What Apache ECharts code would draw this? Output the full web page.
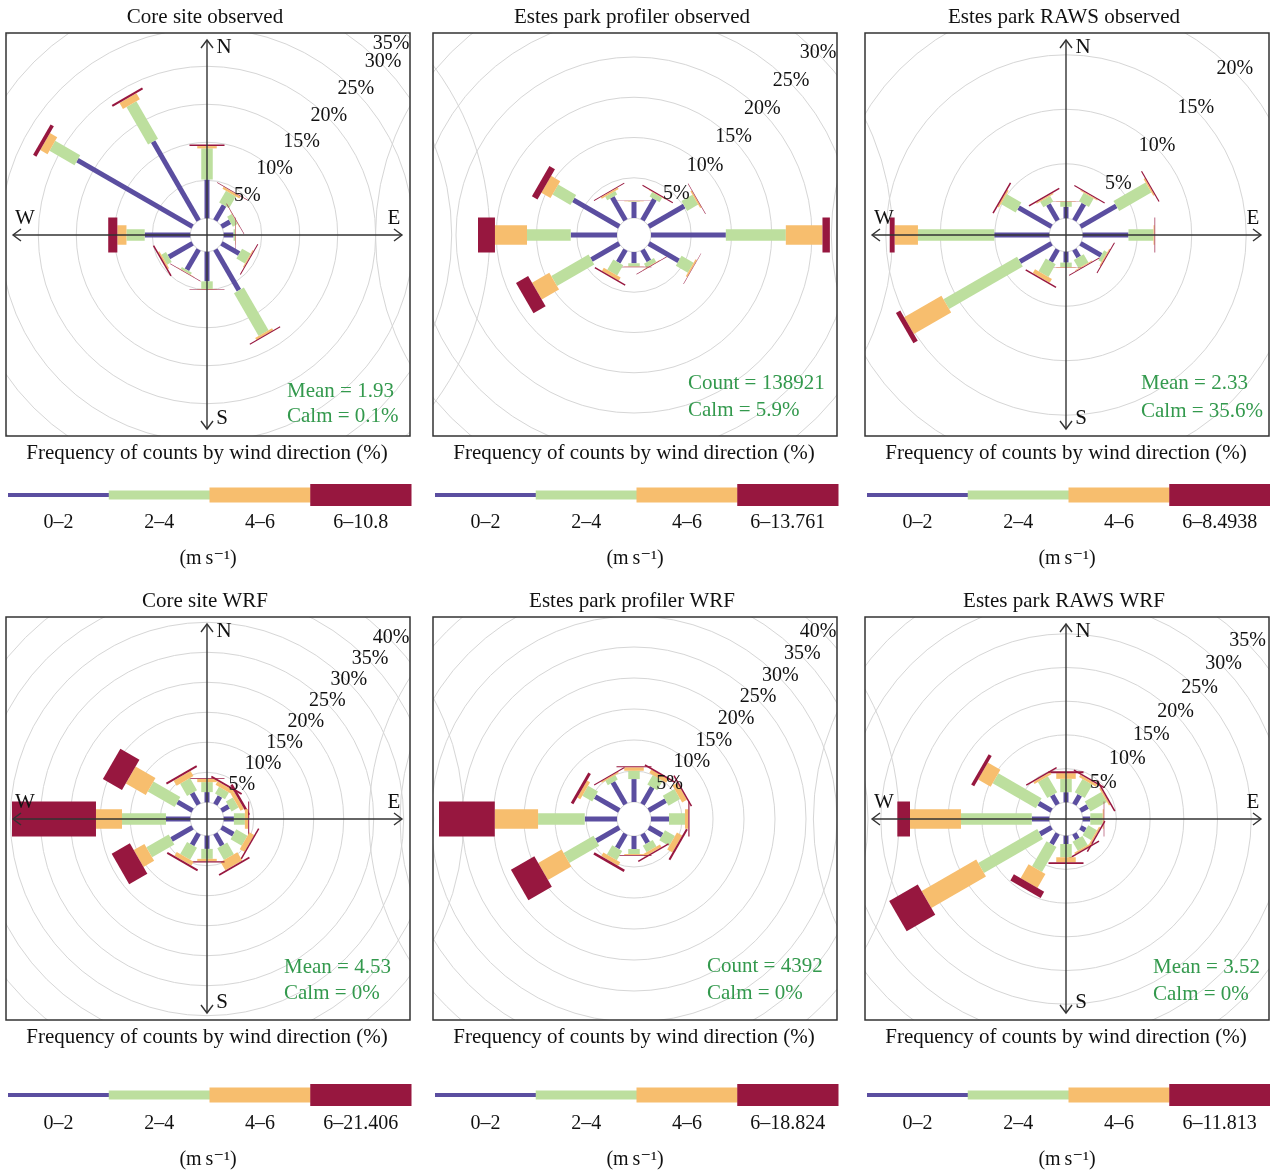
<!DOCTYPE html>
<html>
<head>
    <meta charset="utf-8">
    <title>Wind roses</title>
    <script src="https://cdn.jsdelivr.net/npm/echarts@6/dist/echarts.min.js"></script>
    <style type="text/css">
        html, body { margin: 0; padding: 0; background: #fff; }
        #main { width: 1270px; height: 1170px; }
    </style>
</head>
<body>
<div id="main"></div>
<script>
    // wind directions (degrees from north), one paddle each
    var directions = [0, 30, 60, 90, 120, 150, 180, 210, 240, 270, 300, 330];
    var speedBins = ['0\u20132', '2\u20134', '4\u20136'];

    // frequency (%) per direction, one row per speed band: 0-2, 2-4, 4-6, 6-max
    var coreObs = [
        [5.1, 2.3, 1.3, 1.3, 2.7, 6.2, 3.9, 3.1, 3.6, 6.0, 17.5, 12.0],
        [4.1, 1.8, 0.7, 0.2, 1.3, 6.5, 1.0, 0.3, 0.7, 2.4, 3.8, 5.7],
        [0.3, 0.3, 0.06, 0.06, 0.13, 0.3, 0.06, 0.06, 0.2, 1.2, 1.1, 0.9],
        [0.2, 0.1, 0.07, 0.05, 0.13, 0.13, 0.07, 0.07, 0.2, 1.2, 0.5, 0.3]
    ];
    var profObs = [
        [2.0, 3.0, 5.1, 9.3, 4.3, 1.6, 1.4, 1.8, 4.0, 5.75, 6.6, 3.3],
        [0.07, 0.64, 1.58, 7.45, 1.72, 0.56, 0.4, 1.5, 5.34, 5.43, 2.57, 0.5],
        [0.06, 0.06, 0.18, 4.55, 0.2, 0.07, 0.04, 0.45, 2.48, 3.98, 1.31, 0.21],
        [0.04, 0.13, 0.07, 0.92, 0.06, 0.08, 0.06, 0.18, 1.74, 2.11, 0.8, 0.12]
    ];
    var rawsObs = [
        [1.06, 1.75, 3.8, 4.2, 2.2, 0.8, 1.0, 1.27, 3.35, 5.05, 3.5, 1.7],
        [0.46, 0.88, 3.4, 2.3, 0.33, 0.88, 0.42, 1.33, 7.8, 7.0, 1.56, 0.6],
        [0.04, 0.1, 0.14, 0.09, 0.1, 0.09, 0.05, 0.41, 3.95, 2.14, 0.14, 0.11],
        [0.03, 0.1, 0.11, 0.06, 0.09, 0.09, 0.03, 0.14, 0.46, 0.45, 0.14, 0.14]
    ];
    var coreWrf = [
        [1.7, 1.55, 1.4, 1.7, 2.3, 2.3, 2.2, 2.2, 4.05, 4.05, 2.9, 2.2],
        [1.66, 1.33, 1.34, 1.83, 2.15, 2.23, 1.66, 2.29, 4.28, 7.33, 5.17, 2.33],
        [0.55, 0.67, 0.66, 0.55, 0.91, 1.62, 0.39, 0.75, 2.05, 4.34, 3.83, 1.0],
        [0.12, 0.33, 0.42, 0.17, 0.25, 0.3, 0.23, 0.33, 3.5, 14.0, 3.67, 0.33]
    ];
    var profWrf = [
        [3.7, 3.16, 3.16, 2.9, 2.5, 1.7, 2.1, 2.66, 4.27, 5.2, 4.5, 4.1],
        [1.34, 1.76, 2.16, 2.58, 1.85, 1.2, 0.8, 1.76, 5.57, 7.53, 1.85, 0.8],
        [0.55, 0.64, 0.89, 0.54, 0.97, 0.5, 0.16, 0.66, 4.35, 6.98, 0.57, 0.24],
        [0.16, 0.25, 0.24, 0.19, 0.33, 0.24, 0.12, 0.4, 4.36, 9.0, 0.48, 0.16]
    ];
    var rawsWrf = [
        [1.5, 1.6, 1.23, 1.13, 0.85, 0.93, 1.23, 1.82, 1.97, 2.6, 2.2, 1.6],
        [1.98, 2.3, 2.82, 1.84, 1.49, 1.56, 1.97, 4.31, 10.1, 10.5, 7.4, 2.77],
        [0.84, 0.37, 0.22, 0.15, 0.23, 0.22, 0.75, 2.37, 9.35, 7.57, 2.15, 0.33],
        [0.3, 0.23, 0.23, 0.08, 0.22, 0.23, 0.25, 1.04, 4.9, 1.88, 0.52, 0.22]
    ];

    var titles = ['Core site observed', 'Estes park profiler observed', 'Estes park RAWS observed',
        'Core site WRF', 'Estes park profiler WRF', 'Estes park RAWS WRF'];
    var statLines = [
        ['Mean = 1.93', 'Calm = 0.1%'], ['Count = 138921', 'Calm = 5.9%'], ['Mean = 2.33', 'Calm = 35.6%'],
        ['Mean = 4.53', 'Calm = 0%'], ['Count = 4392', 'Calm = 0%'], ['Mean = 3.52', 'Calm = 0%']
    ];
    var maxSpeed = ['10.8', '13.761', '8.4938', '21.406', '18.824', '11.813'];
    var ringMax = [35, 30, 20, 40, 40, 35];   // outermost labelled ring (%)

    // layout
    var panels = [coreObs, profObs, rawsObs, coreWrf, profWrf, rawsWrf];
    var boxX = [6, 433, 865, 6, 433, 865];
    var boxY = [33, 33, 33, 617, 617, 617];
    var BOXW = 404, BOXH = 403;
    var holePx = [16.7, 17, 16.7, 16.7, 17, 16.7];
    var pxPerPct = [7.6, 8.05, 10.9, 6.0, 6.2, 6.74];
    var compass = [true, false, true, true, false, true];
    var statX = [287, 688, 1141, 284, 707, 1153];
    var statY = [[358, 383], [350, 377], [350, 378], [350, 376], [349, 376], [350, 377]];

    var colors = ['#5B4EA0', '#BDDF9E', '#F7BE6E', '#97173F'];
    var paddleW = [5, 11.5, 19.5, 35];
    var keyH = [4, 9, 15, 22];
    var FONT = '"Liberation Serif", "DejaVu Serif", serif';

    function txt(text, x, y, size, color, align) {
        return {
            type: 'text', z: 10, silent: true,
            style: {
                text: text, x: x, y: y, font: size + 'px ' + FONT, fill: color || '#111',
                align: align || 'center', textAlign: align || 'center',
                verticalAlign: 'middle', textVerticalAlign: 'middle'
            }
        };
    }

    function paddleRender(params, api) {
        var ang = api.value(0), r0 = api.value(1), r1 = api.value(2), b = api.value(3);
        var p0 = api.coord([r0, ang]);
        var p1 = api.coord([r1, ang]);
        var o = api.coord([0, ang]), q = api.coord([1, ang]);
        var dx = q[0] - o[0], dy = q[1] - o[1];
        var len = Math.sqrt(dx * dx + dy * dy) || 1;
        var hw = paddleW[b] / 2;
        var nx = -dy / len * hw, ny = dx / len * hw;
        return {
            type: 'polygon',
            shape: {
                points: [[p0[0] + nx, p0[1] + ny], [p1[0] + nx, p1[1] + ny],
                    [p1[0] - nx, p1[1] - ny], [p0[0] - nx, p0[1] - ny]]
            },
            style: { fill: colors[b] }
        };
    }

    function ringLabelRender(i) {
        return function (params, api) {
            var v = api.value(0);
            var p = api.coord([v + 2 / pxPerPct[i], 45.5]);
            var x = Math.min(p[0], boxX[i] + BOXW - 19);
            var y = Math.max(p[1], boxY[i] + 11);
            return {
                type: 'text',
                style: {
                    text: v + '%', x: x, y: y, font: '20px ' + FONT, fill: '#111',
                    align: 'center', textAlign: 'center', verticalAlign: 'middle', textVerticalAlign: 'middle'
                }
            };
        };
    }

    var polar = [], angleAxis = [], radiusAxis = [], series = [];
    var graphics = [];

    // white masks so the rings stop at the panel boxes
    graphics.push({ type: 'rect', z: 5, silent: true, shape: { x: 0, y: 0, width: 1270, height: 33 }, style: { fill: '#fff' } });
    graphics.push({ type: 'rect', z: 5, silent: true, shape: { x: 0, y: 436, width: 1270, height: 181 }, style: { fill: '#fff' } });
    graphics.push({ type: 'rect', z: 5, silent: true, shape: { x: 0, y: 1020, width: 1270, height: 150 }, style: { fill: '#fff' } });
    graphics.push({ type: 'rect', z: 5, silent: true, shape: { x: 0, y: 0, width: 6, height: 1170 }, style: { fill: '#fff' } });
    graphics.push({ type: 'rect', z: 5, silent: true, shape: { x: 410, y: 0, width: 23, height: 1170 }, style: { fill: '#fff' } });
    graphics.push({ type: 'rect', z: 5, silent: true, shape: { x: 837, y: 0, width: 28, height: 1170 }, style: { fill: '#fff' } });
    graphics.push({ type: 'rect', z: 5, silent: true, shape: { x: 1269, y: 0, width: 10, height: 1170 }, style: { fill: '#fff' } });

    for (var i = 0; i < 6; i++) {
        var bx = boxX[i], by = boxY[i];
        var cx = bx + 201, cy = by + 202;
        var isTopRow = i < 3;

        polar.push({ center: [cx, cy], radius: [holePx[i], holePx[i] + ringMax[i] * pxPerPct[i]] });
        angleAxis.push({
            polarIndex: i, type: 'value', min: 0, max: 360, startAngle: 90, clockwise: true, z: 0,
            axisLine: { show: false }, axisTick: { show: false }, axisLabel: { show: false }, splitLine: { show: false }
        });
        radiusAxis.push({
            polarIndex: i, type: 'value', min: 0, max: ringMax[i], interval: 5, z: 0,
            axisLine: { show: false }, axisTick: { show: false }, axisLabel: { show: false },
            splitLine: { show: true, lineStyle: { color: '#d6d6d6', width: 1 } }
        });

        var data = [];
        for (var d = 0; d < directions.length; d++) {
            var c = 0;
            for (var b = 0; b < 4; b++) {
                var v = panels[i][b][d];
                data.push([directions[d], c, c + v, b]);
                c += v;
            }
        }
        series.push({
            type: 'custom', coordinateSystem: 'polar', polarIndex: i, silent: true, z: 2,
            encode: { angle: 0, radius: [1, 2] },
            renderItem: paddleRender, data: data
        });

        var rings = [];
        for (var r = 5; r <= ringMax[i]; r += 5) rings.push([r, 45]);
        series.push({
            type: 'custom', coordinateSystem: 'polar', polarIndex: i, silent: true, z: 3,
            encode: { radius: 0, angle: 1 },
            renderItem: ringLabelRender(i), data: rings
        });

        // compass axes
        if (compass[i]) {
            var ln = { stroke: '#333', lineWidth: 1.4, fill: 'none' };
            graphics.push({ type: 'line', z: 4, silent: true, shape: { x1: cx, y1: by + 7, x2: cx, y2: by + 396 }, style: ln });
            graphics.push({ type: 'line', z: 4, silent: true, shape: { x1: bx + 7, y1: cy, x2: bx + 396, y2: cy }, style: ln });
            graphics.push({ type: 'polyline', z: 4, silent: true, shape: { points: [[cx - 6, by + 15], [cx, by + 7], [cx + 6, by + 15]] }, style: ln });
            graphics.push({ type: 'polyline', z: 4, silent: true, shape: { points: [[cx - 6, by + 388], [cx, by + 396], [cx + 6, by + 388]] }, style: ln });
            graphics.push({ type: 'polyline', z: 4, silent: true, shape: { points: [[bx + 15, cy - 6], [bx + 7, cy], [bx + 15, cy + 6]] }, style: ln });
            graphics.push({ type: 'polyline', z: 4, silent: true, shape: { points: [[bx + 388, cy - 6], [bx + 396, cy], [bx + 388, cy + 6]] }, style: ln });
            graphics.push(txt('N', cx + 17, cy - 188, 21));
            graphics.push(txt('E', cx + 187, cy - 17, 21));
            graphics.push(txt('W', cx - 182, cy - 17, 21));
            graphics.push(txt('S', cx + 15, cy + 183, 21));
        }

        // box, title, stats
        graphics.push({ type: 'rect', z: 10, silent: true, shape: { x: bx, y: by, width: BOXW, height: BOXH }, style: { fill: 'none', stroke: '#333', lineWidth: 1.5 } });
        graphics.push(txt(titles[i], cx - 2, by - 16, 21));
        graphics.push(txt(statLines[i][0], statX[i], by + statY[i][0], 21, '#33994D', 'left'));
        graphics.push(txt(statLines[i][1], statX[i], by + statY[i][1], 21, '#33994D', 'left'));
        graphics.push(txt('Frequency of counts by wind direction (%)', cx, by + 420, 21));

        // speed key
        var keyY = isTopRow ? by + 462 : by + 478;
        var labY = isTopRow ? by + 490 : by + 507;
        var unitY = isTopRow ? by + 526 : by + 543;
        var seg = 403 / 4;
        var labels = speedBins.concat(['6\u2013' + maxSpeed[i]]);
        for (var k = 0; k < 4; k++) {
            var kx = bx + 2 + k * seg;
            graphics.push({ type: 'rect', z: 10, silent: true, shape: { x: kx, y: keyY - keyH[k] / 2, width: seg + 0.5, height: keyH[k] }, style: { fill: colors[k] } });
            graphics.push(txt(labels[k], kx + seg / 2, labY, 20));
        }
        graphics.push(txt('(m\u2009s\u207B\u00B9)', cx + 1, unitY, 20));
    }

    var myChart = echarts.init(document.getElementById('main'));
    var option = {
        animation: false,
        backgroundColor: '#fff',
        polar: polar,
        angleAxis: angleAxis,
        radiusAxis: radiusAxis,
        series: series,
        graphic: { elements: graphics }
    };
    myChart.setOption(option);
</script>
</body>
</html>
